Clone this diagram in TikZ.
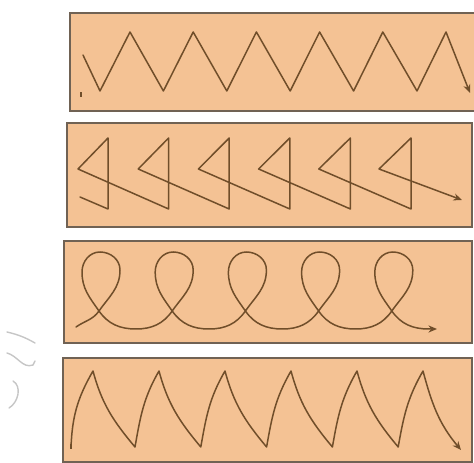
\documentclass[tikz,border=0pt]{standalone}
\usetikzlibrary{arrows.meta}
\definecolor{peach}{RGB}{244,194,148}
\definecolor{frameedge}{RGB}{112,98,84}
\definecolor{ink}{RGB}{112,78,42}
\tikzset{
  panel/.style={draw=frameedge,line width=1.5pt,fill=peach},
  trace/.style={draw=ink,line width=1.5pt,line join=round,line cap=round},
  tracearr/.style={trace,-{Stealth[length=3mm,width=2.5mm]}},
  starttick/.style={draw=ink,line width=2pt},
  ghost/.style={draw=gray!45,line width=1.4pt,line cap=round}
}

\begin{document}
\begin{tikzpicture}[x=1pt,y=1pt]
  \useasboundingbox (0,0) rectangle (474,463);
  \path[panel] (70,352) rectangle (478,450);
  \path[panel] (67,236) rectangle (472,340);
  \path[panel] (64,120) rectangle (472,222);
  \path[panel] (63,1) rectangle (472,105);
  % zigzag
  \draw[starttick] (81,366) -- (81,371);
  \draw[tracearr] (83,408)
    \foreach \i in {0,...,5} {-- ({100+63.4*\i},372) -- ({130+63.2*\i},431)}
    -- (470,370);
  % triangles
  \draw[tracearr] (80,266)
    \foreach \i in {0,...,5} {-- ({108+60.6*\i},254) -- ({108+60.6*\i},325) -- ({78+60.2*\i},294)}
    -- (462,263);
  % loops
  \draw[tracearr] (76,136)
    \foreach \i [evaluate=\i as \cx using 99+73.2*\i,
                 evaluate=\i as \o using {ifthenelse(\i==0,35,0)}] in {0,...,4} {
      to[out=\o,in=235] (\cx,152)
      to[out=55,in=-90] ({\cx+21},193)
      to[out=90,in=0] ({\cx+1},211)
      to[out=180,in=90] ({\cx-17},191)
      to[out=-90,in=125] (\cx,152)
      to[out=-55,in=180] ({\cx+37},134)
    } -- (437,134);
  % arches
  \draw[starttick] (71,14) -- (71,19);
  \draw[tracearr] (71,15) to[out=88,in=240] (93,92)
    \foreach \i in {0,...,4} {to[out=-75,in=130] ({135+65.8*\i},16) to[out=80,in=240] ({159+66*\i},92)}
    to[out=-75,in=130] (461,13);
  % faint marks at the left
  \draw[ghost] (7,131) to[bend left=8] (35,120);
  \draw[ghost] (7,110) to[out=-15,in=200] (33,98) -- (35,102);
  \draw[ghost] (13,82) to[out=-30,in=30] (9,55);
\end{tikzpicture}
\end{document}
